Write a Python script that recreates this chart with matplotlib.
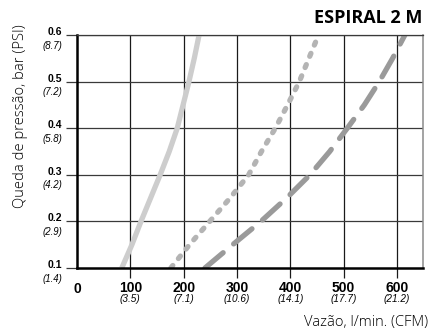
import matplotlib
matplotlib.use("Agg")
import matplotlib.pyplot as plt
import matplotlib.transforms as mtransforms

# ---- data ----
pressure_bar = [0.1, 0.15, 0.2, 0.25, 0.3, 0.35, 0.4, 0.45, 0.5, 0.55, 0.6]
flow_solid = [84, 103, 120, 138, 156, 173, 188, 199, 210, 220, 229]
flow_dotted = [176, 211, 249, 287, 322, 346, 372, 395, 417, 435, 453]
flow_dashed = [240, 292, 345, 393, 437, 474, 507, 539, 567, 592, 615]

x_ticks = [100, 200, 300, 400, 500, 600]
x_cfm_labels = ["(3.5)", "(7.1)", "(10.6)", "(14.1)", "(17.7)", "(21.2)"]
y_ticks = [0.1, 0.2, 0.3, 0.4, 0.5, 0.6]
y_bar_labels = ["0.1", "0.2", "0.3", "0.4", "0.5", "0.6"]
y_psi_labels = ["(1.4)", "(2.9)", "(4.2)", "(5.8)", "(7.2)", "(8.7)"]

title = "ESPIRAL 2 M"
ylabel = "Queda de pressão, bar (PSI)"
xlabel = "Vazão, l/min. (CFM)"

W, H = 429, 331
fig = plt.figure(figsize=(W / 100, H / 100), dpi=100)
ax = fig.add_axes([77 / W, (H - 268) / H, (423 - 77) / W, (268 - 35) / H])
ax.set_xlim(0, 649)
ax.set_ylim(0.1, 0.6)

# grid
for xv in x_ticks:
    ax.axvline(xv, color="#1a1a1a", lw=0.9, zorder=1)
for yv in y_ticks[1:]:
    ax.axhline(yv, color="#3a3a3a", lw=0.9, zorder=1)

# curves
ax.plot(flow_solid, pressure_bar, color="#cdcdcd", lw=3.8,
        solid_capstyle="butt", solid_joinstyle="round", zorder=3)
ax.plot(flow_dotted, pressure_bar, color="#b4b4b4", lw=3.8,
        linestyle=(0, (0.6, 1.7)), dash_capstyle="round", zorder=3)
ax.plot(flow_dashed, pressure_bar, color="#9a9a9a", lw=3.8,
        linestyle=(0, (4.5, 2.6)), dash_capstyle="round", zorder=3)

# spines
for s in ["left", "bottom"]:
    ax.spines[s].set_linewidth(1.8)
    ax.spines[s].set_color("black")
ax.spines["top"].set_linewidth(0.9)
ax.spines["top"].set_color("#3a3a3a")
ax.spines["right"].set_linewidth(1.1)
ax.spines["right"].set_color("#8a8a8a")
for s in ax.spines.values():
    s.set_zorder(4)

# ticks (marks only)
ax.set_xticks(x_ticks)
ax.set_yticks(y_ticks)
ax.tick_params(axis="x", length=7, width=0.9, color="#1a1a1a", labelbottom=False)
ax.tick_params(axis="y", length=8, width=0.9, color="#3a3a3a", labelleft=False)

# custom tick labels
tx = mtransforms.blended_transform_factory(ax.transData, ax.transAxes)
ty = mtransforms.blended_transform_factory(ax.transAxes, ax.transData)
px = 1 / (268 - 35)
pw = 1 / (423 - 77)

ax.text(0, -14 * px, "0", transform=tx, ha="center", va="top",
        fontfamily="Liberation Sans", fontweight="bold", fontsize=10)
for xv, lab in zip(x_ticks, x_cfm_labels):
    ax.text(xv, -13 * px, str(xv), transform=tx, ha="center", va="top",
            fontfamily="Liberation Sans", fontweight="bold", fontsize=10)
    ax.text(xv, -25.5 * px, lab, transform=tx, ha="center", va="top",
            fontfamily="Liberation Sans", fontstyle="italic", fontsize=7.2)

for yv, lb, lp in zip(y_ticks, y_bar_labels, y_psi_labels):
    ax.text(-15 * pw, yv, lb, transform=ty, ha="right", va="baseline",
            fontfamily="Liberation Sans", fontweight="bold", fontsize=7.5)
    ax.text(-15 * pw, yv - 5.6 / 46.6 * 0.1, lp, transform=ty, ha="right", va="top",
            fontfamily="Liberation Sans", fontstyle="italic", fontsize=6.9)

# titles / labels
fig.text(422 / W, 1 - 18 / H, title, ha="right", va="center",
         fontfamily="Open Sans", fontweight="bold", fontsize=13)
fig.text(21 / W, 1 - 116 / H, ylabel, ha="center", va="center", rotation=90,
         fontfamily="Open Sans", fontweight=300, fontsize=10.6, color="black")
fig.text(428 / W, 1 - 323 / H, xlabel, ha="right", va="center",
         fontfamily="Open Sans", fontweight=300, fontsize=10.6, color="black")

fig.savefig("out.png", dpi=100, facecolor="white")
